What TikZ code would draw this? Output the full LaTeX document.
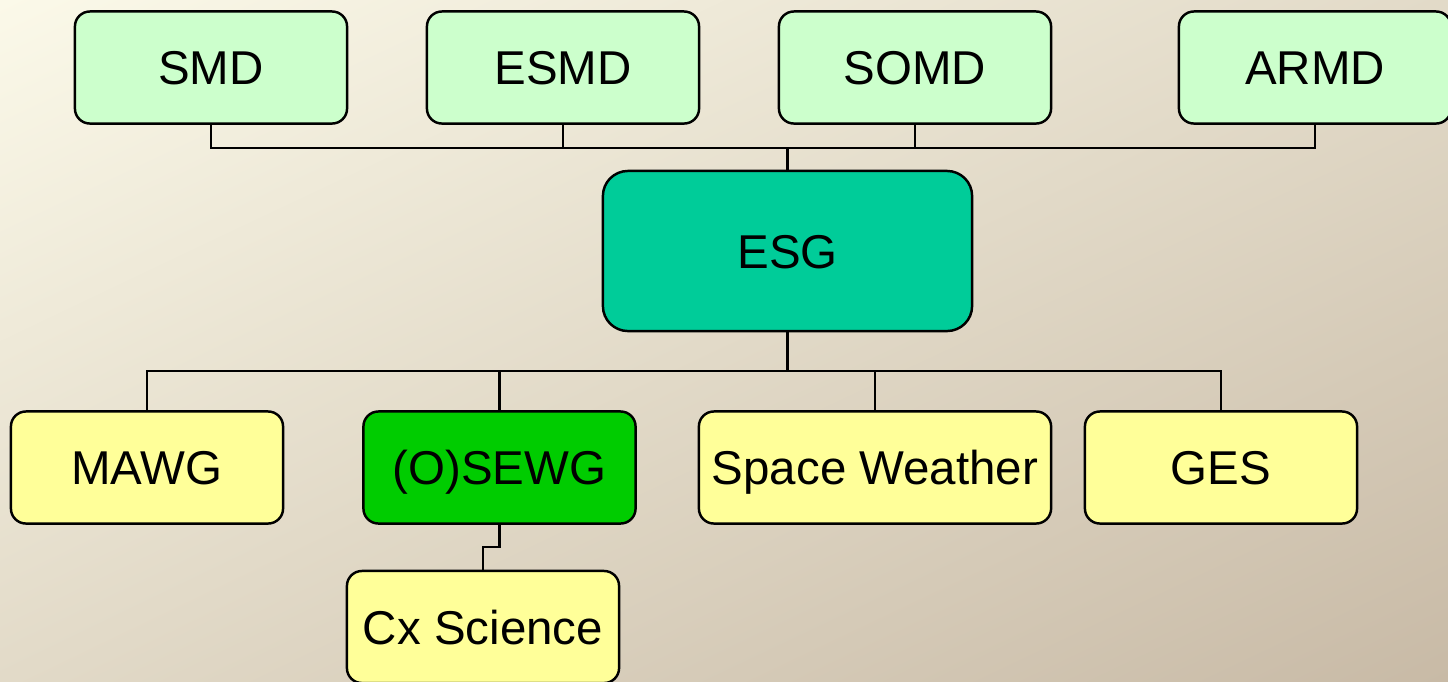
\documentclass[tikz,border=0pt]{standalone}
\usepackage{fontspec}
\setmainfont{Liberation Sans}
\usetikzlibrary{shadings}
\definecolor{bgtl}{RGB}{251,249,233}
\definecolor{bgbr}{RGB}{200,186,166}
\definecolor{bgmid}{RGB}{226,218,200}
\definecolor{topgreen}{RGB}{204,255,204}
\definecolor{esgcol}{RGB}{0,204,153}
\definecolor{osecol}{RGB}{0,204,0}
\definecolor{yel}{RGB}{255,255,153}
\tikzset{
  orgbox/.style={draw=black, line width=0.7pt, rounded corners=0.15cm, inner sep=0pt, outer sep=0pt,
    minimum width=2.72cm, minimum height=1.12cm, font=\fontsize{13.5}{16}\selectfont, text=black,
    text height=9.7pt, text depth=0pt},
  topbox/.style={orgbox, fill=topgreen},
  botbox/.style={orgbox, fill=yel},
  link/.style={draw=black, line width=0.6pt}
}
\begin{document}
\begin{tikzpicture}[x=0.01cm,y=-0.01cm]
\useasboundingbox (0,0) rectangle (1448,681);
\shade[upper left=bgtl, lower right=bgbr, upper right=bgmid, lower left=bgmid] (0,0) rectangle (1448,681);
% top row
\node[topbox] (smd) at (211,67.5) {SMD};
\node[topbox] (esmd) at (563,67.5) {ESMD};
\node[topbox] (somd) at (915,67.5) {SOMD};
\node[topbox] (armd) at (1315,67.5) {ARMD};
% centre
\node[orgbox, fill=esgcol, minimum width=3.69cm, minimum height=1.6cm, rounded corners=0.25cm] (esg) at (787.5,251) {ESG};
% bottom row
\node[botbox] (mawg) at (147,467.5) {MAWG};
\node[orgbox, fill=osecol] (osewg) at (499.5,467.5) {(O)SEWG};
\node[botbox, minimum width=3.52cm] (sw) at (875,467.5) {Space Weather};
\node[botbox] (ges) at (1221,467.5) {GES};
\node[botbox] (cx) at (483,627) {Cx Science};
% buses
\coordinate (tb) at (787.5,148);
\coordinate (bb) at (787.5,371);
\coordinate (kink) at (499.5,547);
\draw[link] (smd.south) |- (tb) -| (armd.south);
\draw[link] (esmd.south) -- (esmd.south |- tb);
\draw[link] (somd.south) -- (somd.south |- tb);
\draw[link] (tb) -- (esg.north);
\draw[link] (esg.south) -- (bb);
\draw[link] (mawg.north) |- (bb) -| (ges.north);
\draw[link] (osewg.north) -- (osewg.north |- bb);
\draw[link] (sw.north) -- (sw.north |- bb);
\draw[link] (osewg.south) -- (kink) -| (cx.north);
\end{tikzpicture}
\end{document}
